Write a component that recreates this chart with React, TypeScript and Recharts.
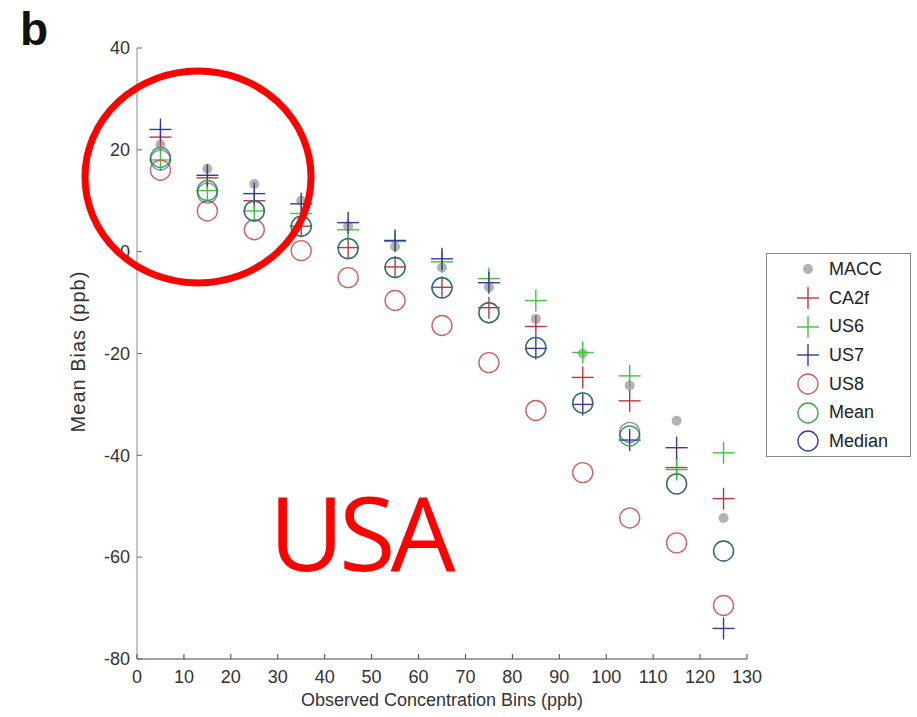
import { ScatterChart, Scatter, XAxis, YAxis, Label } from "recharts";

// bin centres (ppb) and mean bias per model
const bins = [5, 15, 25, 35, 45, 55, 65, 75, 85, 95, 105, 115, 125];
const macc = [21, 16.3, 13.3, 10, 5, 1, -3.1, -7, -13.2, -20, -26.3, -33.2, -52.3];
const ca2f = [22.5, 14.5, 10, 5, 0.8, -3, -7, -11, -14.7, -24.7, -29.3, -42.4, -48.5];
const us6 = [18, 12, 8, 7.5, 4.3, 2, -2, -5.3, -9.6, -19.8, -24.4, -42.8, -39.5];
const us7 = [24, 15, 11.4, 9.4, 5.7, 2.2, -1.4, -6.1, -19, -30, -37, -38.5, -74];
const us8 = [16, 8, 4.3, 0.2, -5.1, -9.6, -14.5, -21.8, -31.2, -43.4, -52.3, -57.2, -69.5];
const meanVals = [18.5, 12, 8, 5, 0.6, -3.1, -7.1, -12, -18.8, -29.7, -36.2, -45.6, -58.8];
const medianVals = [18, 11.5, 8, 5, 0.6, -3.1, -7.1, -12, -18.8, -29.7, -35.5, -45.6, -58.8];

const xTicks = [0, 10, 20, 30, 40, 50, 60, 70, 80, 90, 100, 110, 120, 130];
const yTicks = [-80, -60, -40, -20, 0, 20, 40];

type Kind = "dot" | "plus" | "circle";

const series: { name: string; values: number[]; color: string; kind: Kind; opacity: number }[] = [
  { name: "MACC", values: macc, color: "#b3b3b3", kind: "dot", opacity: 1 },
  { name: "CA2f", values: ca2f, color: "#b83a3e", kind: "plus", opacity: 1 },
  { name: "US6", values: us6, color: "#3cc43c", kind: "plus", opacity: 1 },
  { name: "US7", values: us7, color: "#3a3a8e", kind: "plus", opacity: 1 },
  { name: "US8", values: us8, color: "#c86466", kind: "circle", opacity: 1 },
  { name: "Mean", values: meanVals, color: "#3aa84a", kind: "circle", opacity: 1 },
  { name: "Median", values: medianVals, color: "#3c3c9e", kind: "circle", opacity: 0.6 },
];

const FONT = "'Liberation Sans', Arial, sans-serif";

function marker(kind: Kind, color: string, cx: number, cy: number, opacity = 1) {
  if (kind === "dot") return <circle cx={cx} cy={cy} r={5} fill={color} />;
  if (kind === "circle")
    return (
      <circle cx={cx} cy={cy} r={10} fill="none" stroke={color} strokeWidth={1.4} strokeOpacity={opacity} />
    );
  return (
    <g stroke={color} strokeWidth={1.4}>
      <line x1={cx - 11} x2={cx + 11} y1={cy} y2={cy} />
      <line x1={cx} x2={cx} y1={cy - 11} y2={cy + 11} />
    </g>
  );
}

const YTick = (props: any) => {
  const { x, y, payload } = props;
  return (
    <g>
      <line x1={x + 7} x2={x + 12} y1={y} y2={y} stroke="#666" />
      <text x={x} y={y} dy="0.35em" textAnchor="end" fontSize={18} fill="#333" fontFamily={FONT}>
        {payload.value}
      </text>
    </g>
  );
};

const XTick = (props: any) => {
  const { x, y, payload } = props;
  return (
    <g>
      <line x1={x} x2={x} y1={y - 11} y2={y - 16} stroke="#444" />
      <text x={x} y={y} dy="0.71em" textAnchor="middle" fontSize={18} fill="#333" fontFamily={FONT}>
        {payload.value}
      </text>
    </g>
  );
};

export default function App() {
  return (
    <div style={{ position: "absolute", left: 0, top: 0, width: 917, height: 717, background: "#fff" }}>
      <ScatterChart width={917} height={717} margin={{ top: 48, right: 170, bottom: 0, left: 77 }}>
        <XAxis
          type="number"
          dataKey="x"
          domain={[0, 130]}
          ticks={xTicks}
          interval={0}
          height={58}
          tickSize={0}
          tickMargin={11}
          tick={<XTick />}
          axisLine={{ stroke: "#444" }}
        >
          <Label
            value="Observed Concentration Bins (ppb)"
            position="insideBottom"
            offset={11}
            style={{ fontSize: 18, fill: "#333", fontFamily: FONT }}
          />
        </XAxis>
        <YAxis
          type="number"
          dataKey="y"
          domain={[-80, 40]}
          ticks={yTicks}
          interval={0}
          width={60}
          tickSize={0}
          tickMargin={7}
          tick={<YTick />}
          axisLine={{ stroke: "#8a8a8a" }}
        >
          <Label
            content={(p: any) => {
              const vb = p.viewBox;
              const cx = vb.x + 1;
              const cy = vb.y + vb.height / 2 - 2;
              return (
                <text
                  x={cx}
                  y={cy}
                  transform={`rotate(-90, ${cx}, ${cy})`}
                  textAnchor="middle"
                  dy="0.35em"
                  fontSize={20}
                  letterSpacing={1}
                  fill="#333"
                  fontFamily={FONT}
                >
                  Mean Bias (ppb)
                </text>
              );
            }}
          />
        </YAxis>
        {series.map((s) => (
          <Scatter
            key={s.name}
            name={s.name}
            data={bins.map((b, i) => ({ x: b, y: s.values[i] }))}
            isAnimationActive={false}
            shape={(p: any) => marker(s.kind, s.color, p.cx, p.cy, s.opacity)}
          />
        ))}
      </ScatterChart>

      {/* legend */}
      <div
        style={{
          position: "absolute",
          left: 766,
          top: 253,
          width: 145,
          height: 204,
          border: "1px solid #8a8a8a",
          background: "#fff",
          paddingTop: 1,
          boxSizing: "border-box",
          fontFamily: FONT,
          fontSize: 18,
          color: "#222",
        }}
      >
        {series.map((s) => (
          <div key={s.name} style={{ display: "flex", alignItems: "center", height: 28.7 }}>
            <svg width={62} height={28} style={{ flex: "none" }}>
              {marker(s.kind, s.color, 41, 14)}
            </svg>
            <span>{s.name}</span>
          </div>
        ))}
      </div>

      {/* annotations */}
      <svg width={917} height={717} style={{ position: "absolute", left: 0, top: 0, pointerEvents: "none" }}>
        <text x={20} y={45} fontSize={46} fontWeight="bold" fontFamily={FONT} fill="#111">
          b
        </text>
        <ellipse cx={198} cy={177} rx={113} ry={106} fill="none" stroke="#ff0000" strokeWidth={7} />
        <text x={269} y={571} fontSize={103} fontFamily="'Open Sans', sans-serif" fill="#ff0000" letterSpacing={-5}>
          USA
        </text>
      </svg>
    </div>
  );
}
